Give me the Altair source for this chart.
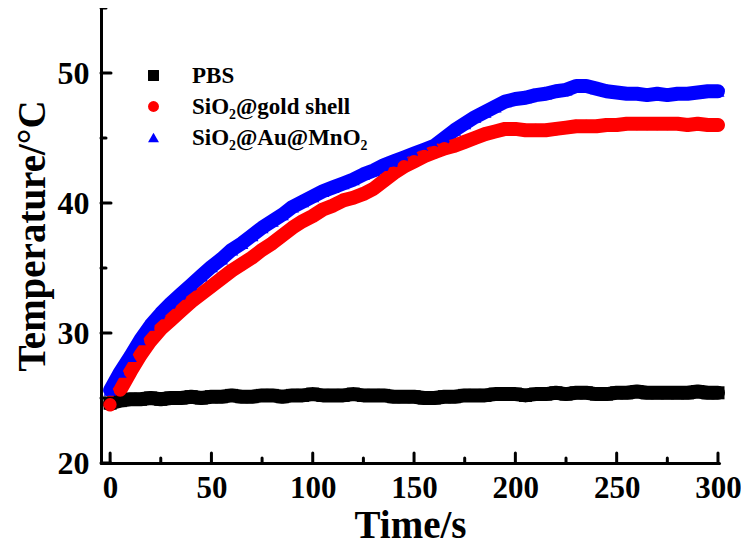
import altair as alt
import pandas as pd

TIME = list(range(0, 301, 5))
PBS = [24.6, 24.8, 24.9, 24.9, 25.0, 24.9, 25.0, 25.0, 25.1, 25.0, 25.1, 25.1, 25.2, 25.1, 25.1, 25.2,
       25.2, 25.1, 25.2, 25.2, 25.3, 25.2, 25.2, 25.2, 25.3, 25.2, 25.2, 25.2, 25.1, 25.1, 25.1, 25.0,
       25.0, 25.1, 25.1, 25.2, 25.2, 25.2, 25.3, 25.3, 25.3, 25.2, 25.3, 25.3, 25.4, 25.3, 25.4, 25.4,
       25.3, 25.3, 25.4, 25.4, 25.5, 25.4, 25.4, 25.4, 25.4, 25.4, 25.5, 25.4, 25.4]
GOLD = [24.5, 25.6, 27.0, 28.3, 29.4, 30.3, 31.0, 31.7, 32.4, 33.0, 33.6, 34.2, 34.8, 35.3, 35.8, 36.4,
        36.9, 37.5, 38.1, 38.6, 39.0, 39.5, 39.8, 40.2, 40.4, 40.7, 41.1, 41.7, 42.3, 42.8, 43.2, 43.6,
        43.9, 44.2, 44.4, 44.7, 45.0, 45.3, 45.5, 45.7, 45.7, 45.6, 45.6, 45.6, 45.7, 45.8, 45.9, 45.9,
        45.9, 46.0, 46.0, 46.1, 46.1, 46.1, 46.1, 46.1, 46.1, 46.0, 46.1, 46.0, 46.0]
MNO2 = [25.6, 27.0, 28.2, 29.5, 30.6, 31.5, 32.3, 33.0, 33.7, 34.4, 35.1, 35.7, 36.4, 36.9, 37.5, 38.1,
        38.6, 39.1, 39.7, 40.1, 40.5, 40.9, 41.2, 41.5, 41.8, 42.2, 42.5, 42.9, 43.2, 43.5, 43.8, 44.1,
        44.4, 45.0, 45.6, 46.1, 46.6, 47.0, 47.4, 47.8, 48.0, 48.1, 48.3, 48.4, 48.6, 48.7, 49.0, 49.0,
        48.8, 48.6, 48.5, 48.4, 48.4, 48.3, 48.4, 48.3, 48.4, 48.4, 48.5, 48.6, 48.6]

LABELS = ["PBS", "SiO\u2082@gold shell", "SiO\u2082@Au@MnO\u2082"]
COLORS = ["#000000", "#ff0000", "#0000ff"]
SHAPES = ["square", "circle", "triangle-up"]
X_MAJOR = [0, 50, 100, 150, 200, 250, 300]
X_MINOR = [25, 75, 125, 175, 225, 275]
Y_MAJOR = [20, 30, 40, 50]
Y_MINOR = [25, 35, 45, 55]

rows = []
for label, vals in [(LABELS[0], PBS), (LABELS[2], MNO2), (LABELS[1], GOLD)]:
    for t, v in zip(TIME, vals):
        rows.append({"t": t, "T": v, "s": label})
df = pd.DataFrame(rows)

W, H = 618, 455
FONT = "Liberation Serif"
xs = alt.Scale(domain=[-4.5, 300.5], nice=False, zero=False)
ys = alt.Scale(domain=[20, 55], nice=False, zero=False)

xaxis = alt.Axis(values=X_MAJOR, ticks=False, grid=False, domainWidth=3, domainColor="black",
                 domainCap="round", labelFont=FONT, labelFontSize=31, labelFontWeight="bold",
                 labelColor="black", labelPadding=10, labelFlush=False, title="Time/s",
                 titleFont=FONT, titleFontSize=39, titleFontWeight="bold", titleColor="black",
                 titlePadding=3)
yaxis = alt.Axis(values=Y_MAJOR, ticks=False, grid=False, domainWidth=3, domainColor="black",
                 domainCap="round", labelFont=FONT, labelFontSize=32, labelFontWeight="bold",
                 labelColor="black", labelPadding=12, labelFlush=False, title="Temperature/°C",
                 titleFont=FONT, titleFontSize=39, titleFontWeight="bold", titleColor="black",
                 titlePadding=5)

legend = alt.Legend(orient="none", legendX=41, legendY=56, title=None, labelFont=FONT,
                    labelFontSize=23, labelFontWeight="bold", labelColor="black", labelLimit=400,
                    symbolSize=120, symbolStrokeWidth=0, rowPadding=7, labelOffset=27)

cscale = alt.Scale(domain=LABELS, range=COLORS)
sscale = alt.Scale(domain=LABELS, range=SHAPES)

base = alt.Chart(df)
lines = base.mark_line(strokeWidth=14, strokeJoin="round", strokeCap="round").encode(
    x=alt.X("t:Q", scale=xs, axis=xaxis),
    y=alt.Y("T:Q", scale=ys, axis=yaxis),
    color=alt.Color("s:N", scale=cscale, legend=None),
    detail="s:N",
)
points = base.mark_point(filled=True, opacity=1, size=170).encode(
    x=alt.X("t:Q", scale=xs),
    y=alt.Y("T:Q", scale=ys),
    color=alt.Color("s:N", scale=cscale, legend=legend),
    shape=alt.Shape("s:N", scale=sscale, legend=legend),
)

xmaj = alt.Chart(pd.DataFrame({"v": X_MAJOR})).mark_rule(strokeWidth=3, color="black", strokeCap="round").encode(
    x=alt.X("v:Q", scale=xs), y=alt.value(H), y2=alt.value(H - 10))
xmin = alt.Chart(pd.DataFrame({"v": X_MINOR})).mark_rule(strokeWidth=3, color="black", strokeCap="round").encode(
    x=alt.X("v:Q", scale=xs), y=alt.value(H), y2=alt.value(H - 5))
ymaj = alt.Chart(pd.DataFrame({"v": Y_MAJOR})).mark_rule(strokeWidth=3, color="black", strokeCap="round").encode(
    y=alt.Y("v:Q", scale=ys), x=alt.value(0), x2=alt.value(10))
ymin = alt.Chart(pd.DataFrame({"v": Y_MINOR})).mark_rule(strokeWidth=3, color="black", strokeCap="round").encode(
    y=alt.Y("v:Q", scale=ys), x=alt.value(0), x2=alt.value(5))

chart = alt.layer(xmaj, xmin, ymaj, ymin, lines, points).resolve_legend(
    color="independent", shape="independent"
).properties(
    width=W, height=H, autosize="none",
    padding={"left": 93, "top": 0, "right": 22, "bottom": 85},
).configure_view(stroke=None)

chart.save("out.html", embed_options={"renderer": "svg", "actions": False})
